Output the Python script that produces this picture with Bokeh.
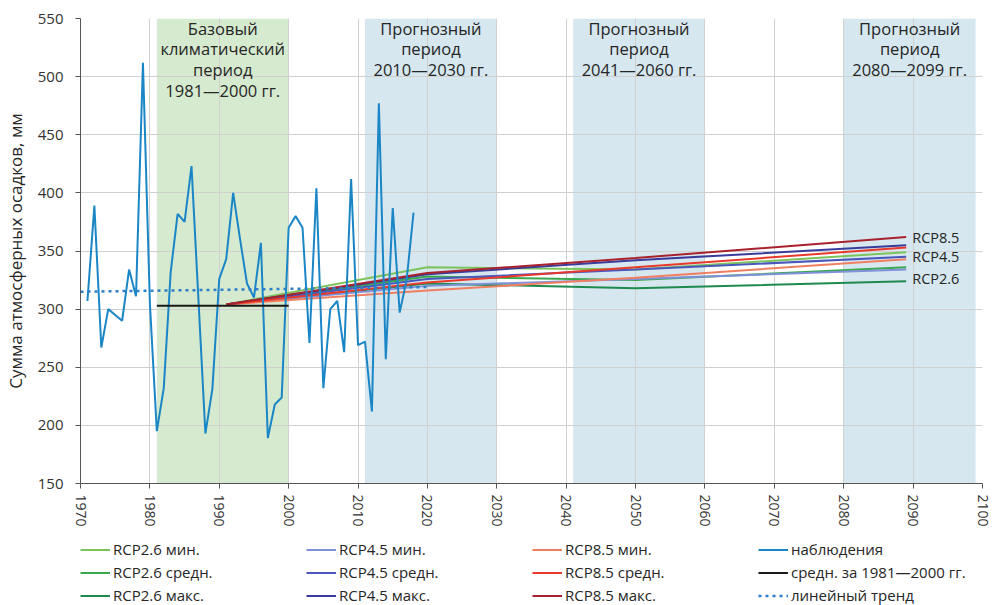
from bokeh.plotting import figure
from bokeh.layouts import column
from bokeh.models import Legend, LegendItem, FixedTicker, Range1d, ColumnDataSource
from bokeh.embed import file_html
from bokeh.resources import INLINE
from bokeh.core.properties import value

FONT = "Open Sans"

# ---- data ----
obs_years = list(range(1971, 2019))
obs_precip = [307, 389, 267, 300, 295, 290, 334, 311, 512, 305,
              195, 232, 332, 382, 375, 423, 308, 193, 231, 326,
              343, 400, 360, 322, 310, 357, 189, 218, 224, 370,
              380, 370, 271, 404, 232, 300, 307, 263, 412, 269,
              272, 212, 477, 257, 387, 297, 325, 383]

base_years = [1981, 2000]
base_mean = [303, 303]

trend_years = [1970, 2020]
trend_vals = [315, 319]

scen_years = [1991, 2020, 2050, 2089]
rcp26_min = [304, 336, 334, 349]
rcp26_mid = [304, 328, 325, 336]
rcp26_max = [304, 322, 318, 324]
rcp45_min = [304, 320, 326, 334]
rcp45_mid = [304, 326, 334, 345]
rcp45_max = [304, 330, 342, 355]
rcp85_min = [304, 316, 327, 343]
rcp85_mid = [304, 323, 336, 353]
rcp85_max = [304, 331, 344, 362]

band_start = [1981, 2011, 2041, 2080]
band_end = [2000, 2030, 2060, 2099]
band_kind = ["base", "proj", "proj", "proj"]
band_labels = ["Базовый\nклиматический\nпериод\n1981—2000 гг.",
               "Прогнозный\nпериод\n2010—2030 гг.",
               "Прогнозный\nпериод\n2041—2060 гг.",
               "Прогнозный\nпериод\n2080—2099 гг."]

x_ticks = list(range(1970, 2101, 10))
y_ticks = list(range(150, 551, 50))

rcp_names = ["RCP8.5", "RCP4.5", "RCP2.6"]

# ---- main figure ----
p = figure(width=992, height=529, output_backend="svg", toolbar_location=None,
           x_range=Range1d(1970, 2100), y_range=Range1d(150, 550),
           min_border_left=80, min_border_right=10, min_border_top=18,
           min_border_bottom=43)
p.outline_line_color = None
p.background_fill_color = "white"

band_colors = {"base": "#d6eacf", "proj": "#d6e7ef"}
bsrc = ColumnDataSource(dict(left=band_start, right=band_end,
                             color=[band_colors[k] for k in band_kind],
                             mid=[(a + b) / 2 for a, b in zip(band_start, band_end)],
                             label=band_labels))
p.quad(left="left", right="right", bottom=p.y_range.start, top=p.y_range.end,
       fill_color="color", line_color=None, source=bsrc, level="image")

p.text(x="mid", y=p.y_range.end, text="label", source=bsrc, text_align="center",
       text_baseline="top", text_font=value(FONT), text_font_size="16.5px",
       text_line_height=0.9, text_color="#262626", y_offset=-2)

# grids
p.xgrid.ticker = FixedTicker(ticks=x_ticks)
p.ygrid.ticker = FixedTicker(ticks=y_ticks)
p.xgrid.grid_line_color = "#d0d0d0"
p.ygrid.grid_line_color = "#d0d0d0"

# axes
for ax in (p.xaxis[0], p.yaxis[0]):
    ax.axis_line_color = "#555555"
    ax.major_tick_line_color = "#555555"
    ax.minor_tick_line_color = None
    ax.major_label_text_font = FONT
    ax.major_label_text_color = "#333333"
    ax.major_tick_in = 0
    ax.major_tick_out = 5
p.xaxis.ticker = FixedTicker(ticks=x_ticks)
p.yaxis.ticker = FixedTicker(ticks=y_ticks)
p.xaxis.major_label_orientation = "vertical"
p.xaxis.major_label_text_font_size = "14px"
p.xaxis.major_label_standoff = 6
p.yaxis.major_label_text_font_size = "15px"
p.yaxis.major_label_standoff = 12
p.yaxis.axis_label = "Сумма атмосферных осадков, мм"
p.yaxis.axis_label_text_font = FONT
p.yaxis.axis_label_text_font_style = "normal"
p.yaxis.axis_label_text_font_size = "17px"
p.yaxis.axis_label_text_color = "#262626"
p.yaxis.axis_label_standoff = 8

# scenario lines
scen = [
    ("RCP2.6 мин.", rcp26_min, "#7cc35c"),
    ("RCP2.6 средн.", rcp26_mid, "#3aa84c"),
    ("RCP2.6 макс.", rcp26_max, "#1f8a4e"),
    ("RCP4.5 мин.", rcp45_min, "#8090d8"),
    ("RCP4.5 средн.", rcp45_mid, "#4a58bc"),
    ("RCP4.5 макс.", rcp45_max, "#3a3c9c"),
    ("RCP8.5 мин.", rcp85_min, "#f07f62"),
    ("RCP8.5 средн.", rcp85_mid, "#e8392c"),
    ("RCP8.5 макс.", rcp85_max, "#a8212c"),
]
other = [
    ("наблюдения", obs_years, obs_precip, dict(line_color="#1a86c6", line_width=2)),
    ("средн. за 1981—2000 гг.", base_years, base_mean,
     dict(line_color="#1a1a1a", line_width=2)),
    ("линейный тренд", trend_years, trend_vals,
     dict(line_color="#2f7fc8", line_width=2.5, line_dash="3 4")),
]

for name, vals, col in scen:
    p.line(scen_years, vals, line_color=col, line_width=2)
for name, xs, ys, st in other:
    p.line(xs, ys, **st)

# RCP labels at series ends
lab_y = [rcp85_max[-1], rcp45_mid[-1], rcp26_max[-1] + 2]
p.text(x=[scen_years[-1]] * 3, y=lab_y, text=rcp_names, text_align="left",
       text_baseline="middle", text_font=value(FONT), text_font_size="14.5px",
       text_color="#262626", x_offset=6)

# ---- legend strip (same series, drawn off-range so only the legend shows) ----
q = figure(width=992, height=76, output_backend="svg", toolbar_location=None,
           x_axis_location=None, y_axis_location=None,
           x_range=Range1d(0, 1), y_range=Range1d(0, 1),
           min_border_left=0, min_border_right=0, min_border_top=0,
           min_border_bottom=0)
q.outline_line_color = None
q.xgrid.visible = False
q.ygrid.visible = False
items = []
for name, vals, col in scen:
    items.append(LegendItem(label=name, renderers=[
        q.line(scen_years, vals, line_color=col, line_width=2)]))
for name, xs, ys, st in other:
    items.append(LegendItem(label=name, renderers=[q.line(xs, ys, **st)]))

legend = Legend(items=items, orientation="vertical", ncols=4, nrows=3,
                location=(0, 0), label_text_font=FONT,
                label_text_font_size="15px", label_text_color="#262626",
                glyph_width=30, glyph_height=17, label_height=17,
                label_standoff=3, label_width=190, spacing=3,
                padding=0, margin=0, border_line_color=None,
                background_fill_alpha=0)
q.add_layout(legend, "center")

layout = column(p, q, spacing=0)
open("out.html", "w").write(file_html(layout, INLINE))
